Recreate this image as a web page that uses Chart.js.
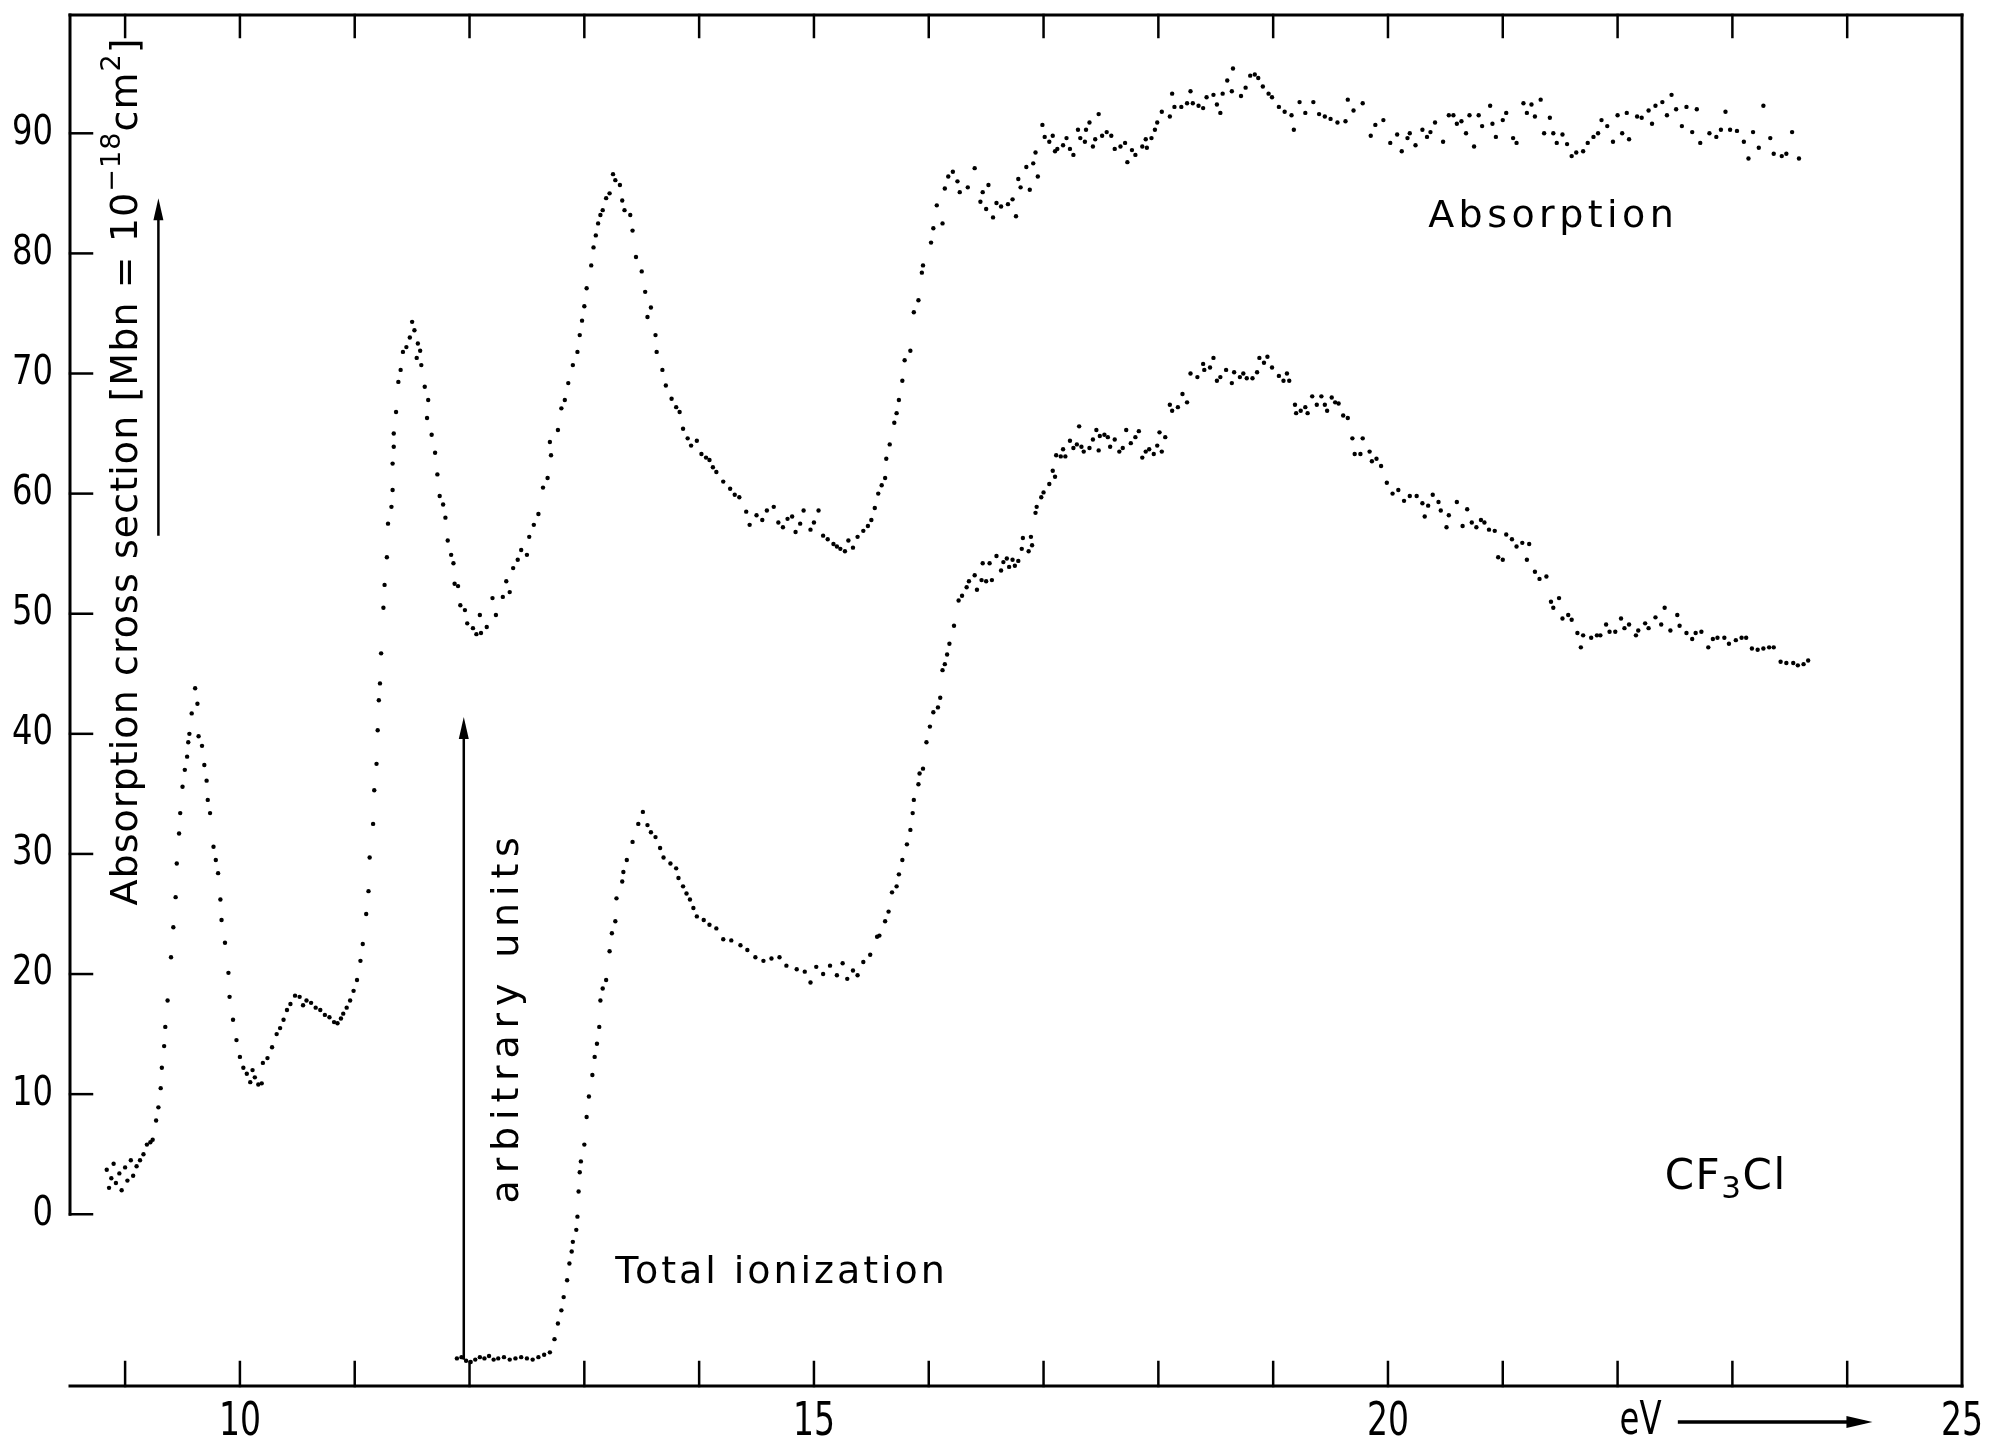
<!DOCTYPE html>
<html>
<head>
<meta charset="utf-8">
<script src="https://cdn.jsdelivr.net/npm/chart.js@4.4.1/dist/chart.umd.min.js"></script>
<style>
html,body{margin:0;padding:0;background:#fff;}
#wrap{width:2004px;height:1446px;position:relative;}
</style>
</head>
<body>
<div id="wrap"><canvas id="c"></canvas></div>
<script>
// ---------- data ----------
const absorptionEnergy = [
8.84,8.86,8.88,8.90,8.92,8.95,8.97,9.00,9.02,9.05,
9.07,9.10,9.13,9.16,9.19,9.22,9.24,9.27,9.29,9.31,
9.32,9.34,9.35,9.37,9.40,9.42,9.44,9.45,9.47,9.48,
9.50,9.52,9.54,9.55,9.56,9.58,9.61,9.63,9.64,9.67,
9.69,9.71,9.72,9.74,9.77,9.79,9.81,9.83,9.84,9.87,
9.90,9.91,9.94,9.97,10.00,10.03,10.06,10.09,10.11,10.13,
10.16,10.19,10.20,10.24,10.28,10.32,10.35,10.38,10.41,10.44,
10.48,10.52,10.55,10.58,10.62,10.66,10.70,10.74,10.78,10.82,
10.85,10.88,10.90,10.93,10.96,10.99,11.02,11.05,11.07,11.10,
11.12,11.13,11.16,11.17,11.19,11.20,11.21,11.22,11.23,11.25,
11.26,11.28,11.29,11.32,11.33,11.33,11.34,11.34,11.36,11.38,
11.40,11.42,11.45,11.48,11.50,11.52,11.54,11.55,11.57,11.58,
11.61,11.63,11.64,11.67,11.70,11.72,11.74,11.77,11.79,11.81,
11.84,11.86,11.87,11.90,11.92,11.96,11.98,12.03,12.06,12.09,
12.10,12.15,12.20,12.23,12.29,12.32,12.35,12.38,12.42,12.45,
12.50,12.52,12.56,12.60,12.64,12.68,12.70,12.71,12.77,12.80,
12.83,12.86,12.90,12.94,12.96,12.98,13.00,13.02,13.06,13.08,
13.10,13.12,13.14,13.16,13.19,13.22,13.25,13.27,13.31,13.33,
13.35,13.40,13.42,13.45,13.50,13.53,13.55,13.58,13.62,13.63,
13.68,13.71,13.76,13.80,13.83,13.86,13.90,13.93,13.98,14.02,
14.06,14.09,14.12,14.15,14.21,14.27,14.31,14.35,14.41,14.44,
14.50,14.55,14.59,14.65,14.69,14.73,14.77,14.81,14.84,14.88,
14.91,14.97,15.00,15.04,15.08,15.12,15.17,15.20,15.23,15.27,
15.30,15.34,15.38,15.43,15.47,15.50,15.53,15.56,15.59,15.62,
15.63,15.66,15.70,15.72,15.74,15.77,15.79,15.84,15.87,15.91,
15.94,15.95,16.02,16.04,16.07,16.12,16.14,16.17,16.21,16.25,
16.27,16.34,16.40,16.45,16.47,16.50,16.52,16.56,16.59,16.63,
16.69,16.73,16.76,16.78,16.80,16.85,16.88,16.91,16.93,16.95,
16.99,17.01,17.05,17.08,17.10,17.12,17.17,17.20,17.23,17.26,
17.30,17.32,17.36,17.37,17.40,17.43,17.45,17.48,17.51,17.55,
17.59,17.62,17.67,17.71,17.73,17.77,17.80,17.86,17.89,17.90,
17.94,17.97,17.99,18.03,18.10,18.12,18.14,18.20,18.25,18.28,
18.30,18.35,18.39,18.42,18.48,18.51,18.54,18.56,18.60,18.64,
18.65,18.72,18.76,18.80,18.84,18.87,18.91,18.96,18.99,19.05,
19.10,19.16,19.18,19.23,19.28,19.35,19.40,19.45,19.50,19.56,
19.63,19.65,19.70,19.78,19.85,19.89,19.96,20.02,20.08,20.12,
20.17,20.19,20.24,20.30,20.34,20.37,20.41,20.48,20.53,20.57,
20.60,20.64,20.68,20.71,20.75,20.79,20.82,20.89,20.91,20.94,
21.00,21.03,21.09,21.12,21.18,21.21,21.25,21.28,21.33,21.36,
21.41,21.44,21.47,21.52,21.56,21.60,21.64,21.70,21.74,21.79,
21.83,21.86,21.91,21.96,22.00,22.04,22.08,22.10,22.17,22.21,
22.27,22.30,22.33,22.39,22.43,22.47,22.51,22.56,22.60,22.65,
22.69,22.72,22.80,22.86,22.90,22.94,22.98,23.04,23.10,23.14,
23.18,23.23,23.27,23.33,23.36,23.43,23.47,23.52,23.58
];
const absorptionCrossSection = [
3.7,2.2,3.0,4.2,2.6,3.4,2.0,3.9,2.8,4.5,
3.2,4.0,4.5,5.0,5.8,6.0,6.2,7.8,8.9,10.5,
12.2,14.0,15.6,17.8,21.4,23.9,26.4,29.2,31.7,33.4,
35.6,37.0,38.1,39.3,40.0,41.7,43.8,42.5,39.8,39.0,
37.4,36.1,34.5,33.4,30.6,29.5,28.4,26.2,24.5,22.6,
20.1,18.1,16.2,14.5,13.1,12.2,11.7,11.0,12.0,11.4,
10.8,10.9,12.6,13.0,13.9,15.0,15.5,16.2,17.0,17.5,
18.2,18.1,17.4,17.8,17.6,17.2,17.0,16.6,16.4,16.0,
15.9,16.3,16.7,17.2,17.8,18.6,19.5,21.1,22.5,25.0,
26.9,29.7,32.5,35.3,37.5,40.3,42.8,44.2,46.7,50.5,
52.4,54.7,57.5,58.9,60.3,62.5,63.9,65.0,66.8,69.3,
70.3,71.8,72.2,73.0,74.3,73.6,71.3,72.5,71.9,70.7,
68.9,66.3,67.8,64.9,63.4,61.6,59.8,59.1,58.0,56.1,
54.9,54.2,52.5,52.3,50.7,50.3,49.2,48.8,48.3,49.9,
48.4,48.9,51.3,49.9,51.4,52.7,51.8,53.8,54.5,55.3,
54.9,56.4,57.4,58.3,60.5,61.3,64.3,63.2,65.3,67.1,
67.8,69.2,70.7,71.8,73.2,74.4,75.6,77.1,79.0,80.5,
81.5,82.5,83.2,83.6,84.6,85.0,86.6,86.1,85.7,84.4,
83.6,83.2,81.9,79.7,78.5,76.8,74.7,75.5,73.2,71.8,
70.3,69.0,67.9,67.2,66.8,65.4,64.6,64.0,64.4,63.3,
63.0,62.8,62.2,61.8,61.0,60.4,59.9,59.7,58.5,57.4,
58.2,57.8,58.6,58.9,57.6,57.2,57.9,58.1,56.8,57.5,
58.6,57.0,57.6,58.6,56.5,56.2,55.8,55.6,55.4,55.2,
56.1,55.5,56.4,56.9,57.3,57.8,58.8,60.0,60.7,61.3,
62.9,64.1,65.9,66.7,67.8,69.4,71.1,71.9,75.1,76.1,
78.4,79.0,80.9,82.1,84.0,82.5,85.4,86.4,86.8,86.0,
85.1,85.5,87.1,84.3,85.1,83.7,85.7,83.0,84.2,83.9,
84.1,84.5,83.1,86.2,85.5,87.2,85.3,87.5,88.4,86.4,
90.7,89.7,89.3,89.8,88.5,88.7,89.0,89.6,88.7,88.2,
90.3,89.6,89.3,90.3,90.9,88.9,89.5,91.6,89.8,90.1,
89.8,88.7,88.9,89.2,87.6,88.6,88.2,88.9,89.5,88.8,
89.6,90.3,90.9,91.8,91.4,93.3,92.2,92.2,92.5,93.5,
92.5,92.3,92.1,93.0,93.2,92.4,91.7,93.3,94.4,93.5,
95.4,93.1,93.8,94.8,94.9,94.6,93.9,93.3,93.0,92.2,
91.8,91.5,90.3,92.6,91.7,92.6,91.6,91.4,91.2,90.9,
91.0,92.8,91.9,92.5,89.8,90.7,91.1,89.2,89.9,88.5,
89.6,90.0,89.0,90.3,89.7,90.1,90.9,89.3,91.5,91.5,
90.8,91.0,90.0,91.5,88.9,91.5,90.6,92.3,90.8,89.7,
91.1,91.7,89.6,89.2,92.5,91.7,92.4,91.4,92.8,90.0,
91.3,90.0,89.2,89.9,89.1,88.1,88.4,88.5,89.2,89.7,
90.0,91.1,90.6,89.3,91.5,90.0,91.7,89.5,91.4,91.3,
91.9,90.8,92.3,92.6,91.5,93.2,92.0,90.6,92.2,90.1,
92.0,89.2,90.0,89.7,90.3,91.8,90.3,90.2,89.3,87.9,
90.1,88.8,92.3,89.6,88.3,88.1,88.3,90.1,87.9
];
const ionizationEnergy = [
11.89,11.93,11.97,12.01,12.05,12.09,12.13,12.17,12.21,12.25,
12.30,12.35,12.40,12.45,12.50,12.55,12.60,12.65,12.70,12.74,
12.77,12.80,12.82,12.85,12.87,12.89,12.90,12.93,12.94,12.95,
12.96,12.97,13.00,13.02,13.04,13.07,13.09,13.11,13.13,13.14,
13.16,13.19,13.22,13.24,13.27,13.28,13.33,13.34,13.37,13.42,
13.47,13.51,13.55,13.58,13.62,13.66,13.69,13.75,13.80,13.82,
13.86,13.89,13.92,13.95,13.98,14.04,14.09,14.15,14.21,14.28,
14.36,14.42,14.49,14.56,14.63,14.70,14.76,14.85,14.92,14.97,
15.02,15.08,15.14,15.20,15.25,15.29,15.34,15.38,15.43,15.49,
15.55,15.57,15.62,15.65,15.68,15.72,15.74,15.77,15.81,15.84,
15.86,15.87,15.91,15.92,15.95,15.98,16.01,16.04,16.08,16.10,
16.12,16.14,16.16,16.18,16.22,16.26,16.29,16.33,16.35,16.40,
16.42,16.46,16.47,16.50,16.53,16.55,16.59,16.63,16.65,16.68,
16.70,16.73,16.75,16.78,16.81,16.82,16.87,16.89,16.90,16.93,
16.94,16.98,17.00,17.05,17.08,17.10,17.11,17.15,17.17,17.19,
17.23,17.26,17.29,17.31,17.33,17.35,17.40,17.43,17.46,17.48,
17.49,17.53,17.56,17.58,17.62,17.66,17.69,17.72,17.76,17.80,
17.83,17.86,17.89,17.92,17.96,17.99,18.01,18.03,18.06,18.10,
18.12,18.17,18.21,18.25,18.28,18.34,18.39,18.40,18.45,18.48,
18.51,18.54,18.59,18.64,18.66,18.71,18.74,18.77,18.82,18.86,
18.88,18.92,18.95,18.99,19.05,19.09,19.12,19.14,19.19,19.20,
19.24,19.28,19.30,19.34,19.38,19.42,19.45,19.47,19.51,19.54,
19.57,19.61,19.65,19.69,19.71,19.76,19.78,19.84,19.86,19.90,
19.94,19.99,20.04,20.09,20.14,20.19,20.25,20.30,20.32,20.35,
20.39,20.44,20.46,20.51,20.53,20.60,20.65,20.69,20.73,20.77,
20.81,20.84,20.88,20.93,20.96,21.00,21.03,21.08,21.12,21.17,
21.21,21.23,21.28,21.32,21.38,21.42,21.44,21.49,21.52,21.57,
21.60,21.65,21.68,21.70,21.77,21.82,21.85,21.90,21.93,21.98,
22.03,22.06,22.10,22.16,22.18,22.24,22.27,22.33,22.38,22.41,
22.46,22.52,22.54,22.60,22.65,22.68,22.73,22.79,22.83,22.87,
22.93,22.97,23.03,23.08,23.12,23.17,23.22,23.27,23.32,23.36,
23.42,23.47,23.53,23.57,23.62,23.66
];
const ionizationSignal = [
-12.0,-11.9,-12.2,-12.3,-12.1,-11.9,-12.0,-11.8,-12.1,-12.0,
-11.9,-12.1,-12.0,-11.9,-12.0,-12.1,-11.9,-11.7,-11.5,-10.4,
-9.1,-8.0,-6.9,-5.5,-4.1,-3.1,-2.3,-1.3,-0.2,1.9,
3.5,4.4,5.8,8.1,9.8,11.6,13.1,14.2,15.6,17.8,
18.8,19.5,21.9,23.4,24.4,26.3,27.7,28.5,29.5,31.0,
32.5,33.5,32.4,31.8,31.4,30.5,29.7,29.2,28.8,28.0,
27.3,26.7,26.2,25.5,24.8,24.5,24.1,23.8,22.9,22.8,
22.4,22.0,21.4,21.1,21.3,21.4,20.7,20.4,20.2,19.3,
20.6,20.0,20.7,19.9,20.9,19.6,20.3,19.9,21.0,21.6,
23.1,23.2,24.4,25.2,26.8,27.3,28.3,29.5,30.8,32.0,
33.4,34.5,35.8,36.7,37.1,39.3,40.6,41.8,42.2,43.0,
45.3,45.8,46.6,47.5,49.0,51.1,51.5,52.2,52.7,53.2,
52.0,52.8,54.2,52.7,54.2,52.8,54.8,53.6,54.3,54.6,
53.9,54.5,54.0,54.4,55.4,56.3,55.2,56.4,55.7,58.4,
58.9,59.7,60.1,60.8,61.9,61.4,63.2,63.1,63.7,63.1,
64.4,63.8,64.1,65.6,63.9,63.5,63.8,64.5,65.3,63.6,
64.8,64.9,64.7,63.9,64.5,63.5,63.8,65.3,64.2,64.7,
65.2,63.0,63.5,63.7,63.3,64.0,65.1,63.5,64.7,67.4,
66.9,67.2,68.3,67.6,70.0,69.7,70.8,70.3,70.5,71.3,
69.4,69.7,70.3,69.2,70.1,69.7,70.0,69.6,69.6,70.1,
71.3,70.9,71.4,70.5,69.8,69.4,70.0,69.4,67.4,66.7,
66.9,67.2,66.7,68.1,67.4,68.1,67.4,66.9,68.0,67.6,
67.5,66.5,66.3,64.6,63.3,63.3,64.6,63.5,62.7,62.9,
62.3,60.9,60.0,60.3,59.4,59.8,59.8,59.2,58.1,59.0,
59.9,59.3,58.6,57.2,58.2,59.3,57.3,58.7,57.6,57.2,
57.8,57.6,57.0,56.9,54.7,54.5,56.6,56.2,55.6,55.9,
54.5,55.8,53.5,52.9,53.1,51.0,50.5,51.3,49.6,49.9,
49.5,48.4,47.2,48.2,48.0,48.2,48.2,49.1,48.5,48.5,
49.6,48.8,49.1,48.2,48.6,49.2,48.8,49.7,49.1,50.5,
48.6,49.9,49.0,48.4,47.9,48.4,48.5,47.2,47.9,48.0,
48.0,47.5,47.8,48.0,48.0,47.1,47.0,47.1,47.2,47.2,
46.0,45.9,45.9,45.7,45.8,46.1
];
const xLabelTicks = [10, 15, 20, 25];
const xMinorTicks = [9, 10, 11, 12, 13, 14, 15, 16, 17, 18, 19, 20, 21, 22, 23, 24];
const yTickValues = [0, 10, 20, 30, 40, 50, 60, 70, 80, 90];

// ---------- styling / layout ----------
const TICK_FONT = '"DejaVu Sans Condensed", "DejaVu Sans", sans-serif';
const TEXT_FONT = '"DejaVu Sans", "Noto Sans", sans-serif';
const X_MIN = 8.52, X_MAX = 25, Y_MIN = -14.3, Y_MAX = 99.85;

const annot = {
  yTitle:   {x: 9.10, y0: 25.7, y1: 97.9},
  yArrow:   {x: 9.29, y0: 56.6, y1: 84.6},
  arbText:  {x: 12.42, y0: 0.9, y1: 31.4},
  arbArrow: {x: 11.95, y0: -12.0, y1: 41.4},
  absLabel: {x0: 20.35, x1: 22.49, y: 82.2},
  ionLabel: {x0: 13.27, x1: 16.14, y: -5.7},
  cfLabel:  {x0: 22.41, x1: 23.46, y: 2.1},
  evLabel:  {x: 22.2, y: -17.3},
  evArrow:  {x0: 22.54, x1: 24.22, y: -17.3}
};

function toPoints(xs, ys) { return xs.map((x, i) => ({x: x, y: ys[i]})); }

function spacedText(ctx, parts, x, y, target) {
  ctx.letterSpacing = '0px';
  let natural = 0, n = 0;
  parts.forEach(p => {
    ctx.font = p.size + 'px ' + TEXT_FONT;
    p.w = ctx.measureText(p.t).width;
    p.n = Array.from(p.t).length;
    natural += p.w; n += p.n;
  });
  const sp = target ? (target - natural) / Math.max(1, n - 1) : 0;
  let cx = x;
  parts.forEach(p => {
    ctx.font = p.size + 'px ' + TEXT_FONT;
    ctx.letterSpacing = sp + 'px';
    ctx.fillText(p.t, cx, y + (p.dy || 0));
    cx += p.w + sp * p.n;
  });
  ctx.letterSpacing = '0px';
}

// narrow plotter-style numerals: squeeze so every digit is ~digitW wide
function tickText(ctx, text, x, y, size, digitW, align) {
  ctx.font = size + 'px ' + TICK_FONT;
  const w = ctx.measureText(text).width;
  const sx = (digitW * text.length) / w;
  ctx.save();
  ctx.translate(x, y);
  ctx.scale(sx, 1);
  ctx.textAlign = align; ctx.textBaseline = 'middle';
  ctx.fillText(text, 0, 0);
  ctx.restore();
}

const framePlugin = {
  id: 'frame',
  afterDraw(chart) {
    const ctx = chart.ctx, a = chart.chartArea;
    const xs = chart.scales.x, ys = chart.scales.y;
    const X = v => xs.getPixelForValue(v), Y = v => ys.getPixelForValue(v);
    ctx.save();
    ctx.strokeStyle = '#000'; ctx.fillStyle = '#000'; ctx.lineCap = 'square';
    const seg = (x1, y1, x2, y2, w) => { ctx.lineWidth = w; ctx.beginPath(); ctx.moveTo(x1, y1); ctx.lineTo(x2, y2); ctx.stroke(); };
    // frame
    seg(a.left, a.top, a.right, a.top, 3);
    seg(a.right, a.top, a.right, a.bottom, 3);
    seg(a.left, a.bottom, a.right, a.bottom, 3);
    seg(a.left, a.top, a.left, Y(0), 3);
    // tick marks
    yTickValues.forEach(v => seg(a.left, Y(v), a.left + 22, Y(v), 2.5));
    xMinorTicks.forEach(v => {
      seg(X(v), a.bottom, X(v), a.bottom - 24, 2.5);
      seg(X(v), a.top, X(v), a.top + 22, 2.5);
    });
    // tick labels
    yTickValues.forEach(v => tickText(ctx, String(v), a.left - 17, Y(v), 40, 20.5, 'right'));
    xLabelTicks.forEach(v => tickText(ctx, String(v), X(v), a.bottom + 37, 46, 21, 'center'));
    // vertical arrows
    const upArrow = (x, yb, yt) => {
      seg(x, yb, x, yt + 10, 2.5);
      ctx.beginPath(); ctx.moveTo(x, yt); ctx.lineTo(x - 5, yt + 22); ctx.lineTo(x + 5, yt + 22); ctx.closePath(); ctx.fill();
    };
    upArrow(X(annot.yArrow.x), Y(annot.yArrow.y0), Y(annot.yArrow.y1));
    upArrow(X(annot.arbArrow.x), Y(annot.arbArrow.y0), Y(annot.arbArrow.y1));
    // eV arrow
    const ex0 = X(annot.evArrow.x0), ex1 = X(annot.evArrow.x1), ey = Y(annot.evArrow.y);
    seg(ex0, ey, ex1 - 10, ey, 3.5);
    ctx.beginPath(); ctx.moveTo(ex1, ey); ctx.lineTo(ex1 - 26, ey - 6); ctx.lineTo(ex1 - 26, ey + 6); ctx.closePath(); ctx.fill();
    tickText(ctx, 'eV', X(annot.evLabel.x), Y(annot.evLabel.y), 46, 21, 'center');

    ctx.lineCap = 'butt';
    ctx.textBaseline = 'alphabetic'; ctx.textAlign = 'left';
    // rotated y title
    ctx.save();
    ctx.translate(X(annot.yTitle.x), Y(annot.yTitle.y0));
    ctx.rotate(-Math.PI / 2);
    spacedText(ctx, [
      {t: 'Absorption cross section [Mbn = 10', size: 38},
      {t: '\u221218', size: 27, dy: -17},
      {t: 'cm', size: 38},
      {t: '2', size: 27, dy: -17},
      {t: ']', size: 38}
    ], 0, 0, Y(annot.yTitle.y0) - Y(annot.yTitle.y1));
    ctx.restore();
    // arbitrary units
    ctx.save();
    ctx.translate(X(annot.arbText.x), Y(annot.arbText.y0));
    ctx.rotate(-Math.PI / 2);
    spacedText(ctx, [{t: 'arbitrary units', size: 38}], 0, 0, Y(annot.arbText.y0) - Y(annot.arbText.y1));
    ctx.restore();
    // in-plot labels
    spacedText(ctx, [{t: 'Absorption', size: 38}], X(annot.absLabel.x0), Y(annot.absLabel.y), X(annot.absLabel.x1) - X(annot.absLabel.x0));
    spacedText(ctx, [{t: 'Total ionization', size: 38}], X(annot.ionLabel.x0), Y(annot.ionLabel.y), X(annot.ionLabel.x1) - X(annot.ionLabel.x0));
    spacedText(ctx, [{t: 'CF', size: 42}, {t: '3', size: 31, dy: 9}, {t: 'Cl', size: 42}], X(annot.cfLabel.x0), Y(annot.cfLabel.y), X(annot.cfLabel.x1) - X(annot.cfLabel.x0));
    ctx.restore();
  }
};

new Chart(document.getElementById('c'), {
  type: 'scatter',
  data: {
    datasets: [
      {label: 'Absorption', data: toPoints(absorptionEnergy, absorptionCrossSection),
       pointRadius: 2.2, pointBackgroundColor: '#000', pointBorderWidth: 0, showLine: false},
      {label: 'Total ionization', data: toPoints(ionizationEnergy, ionizationSignal),
       pointRadius: 2.2, pointBackgroundColor: '#000', pointBorderWidth: 0, showLine: false}
    ]
  },
  options: {
    responsive: true, maintainAspectRatio: false, animation: false, devicePixelRatio: 1,
    events: [],
    layout: {padding: {top: 15, right: 42, left: 0, bottom: 0}},
    plugins: {legend: {display: false}, tooltip: {enabled: false}},
    scales: {
      x: {
        type: 'linear', min: X_MIN, max: X_MAX,
        grid: {display: false, drawTicks: false}, border: {display: false},
        ticks: {display: false},
        afterBuildTicks: s => { s.ticks = xLabelTicks.map(v => ({value: v})); },
        afterFit: s => { s.height = 60; s.paddingLeft = 0; s.paddingRight = 0; }
      },
      y: {
        type: 'linear', min: Y_MIN, max: Y_MAX,
        grid: {display: false, drawTicks: false}, border: {display: false},
        ticks: {display: false},
        afterBuildTicks: s => { s.ticks = yTickValues.map(v => ({value: v})); },
        afterFit: s => { s.width = 70; s.paddingTop = 0; s.paddingBottom = 0; }
      }
    }
  },
  plugins: [framePlugin]
});
</script>
</body>
</html>
